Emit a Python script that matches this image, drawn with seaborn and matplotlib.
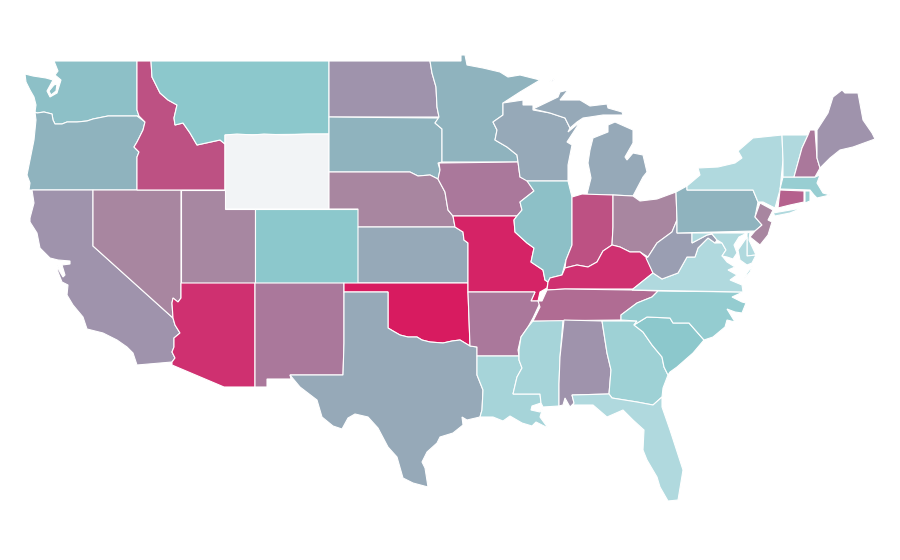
import numpy as np
import seaborn as sns
import matplotlib.pyplot as plt
from matplotlib.colors import Normalize

# escala de cores (do menor para o maior valor)
CORES_ESCALA = ["#b0d9de", "#8cc8cc", "#8fb3be", "#96a9b8", "#9f93ac",
                "#a886a0", "#aa789b", "#bd5283", "#cf3070", "#d81b60"]
COR_SEM_DADO = "#f2f4f6"

ESTADOS = ["WA", "OR", "CA", "NV", "ID", "MT", "WY", "UT", "CO", "AZ", "NM", "ND",
           "SD", "NE", "KS", "OK", "TX", "MN", "IA", "MO", "AR", "LA", "WI", "IL",
           "MS", "MI", "IN", "OH", "KY", "TN", "AL", "GA", "FL", "SC", "NC", "VA",
           "WV", "PA", "NY", "NJ", "DE", "MD", "CT", "RI", "MA", "VT", "NH", "ME"]
VALORES = [1.4, 2.0, 4.0, 5.0, 7.0, 1.0, np.nan, 4.9, 1.0, 8.0, 6.0, 4.0,
           2.0, 5.0, 3.0, 9.0, 3.0, 2.0, 6.0, 8.6, 6.0, 0.3, 3.0, 1.4,
           0.3, 3.0, 7.0, 5.0, 8.0, 6.3, 4.0, 0.5, 0.0, 1.0, 0.8, 0.0,
           3.5, 2.0, 0.0, 5.0, 0.0, 0.0, 6.6, 0.7, 0.7, 0.0, 6.0, 4.0]

# contornos dos estados (pixels da imagem)
CONTORNOS = {
    "WA": [[(54, 61), (137, 61), (137, 110), (139, 116), (108, 116), (93, 119), (87, 121), (77, 122),
            (67, 122), (62, 124), (55, 124), (53, 120), (52, 114), (44, 112), (37, 113), (35, 112),
            (36, 105), (34, 97), (30, 90), (26, 82), (25, 74), (33, 76), (46, 78), (53, 80), (47, 91),
            (50, 97), (57, 93), (61, 80), (55, 75), (58, 71)],
           [(49, 91), (54, 85), (57, 84), (56, 91), (51, 95)]],
    "OR": [[(35, 112), (37, 113), (44, 112), (52, 114), (53, 120), (55, 124), (62, 124), (67, 122),
            (77, 122), (87, 121), (93, 119), (108, 116), (137, 116), (145, 122), (143, 130), (137, 142),
            (134, 147), (139, 152), (137, 157), (137, 190), (29, 190), (30, 183), (27, 175), (30, 160),
            (34, 140), (36, 120)]],
    "CA": [[(32, 190), (93, 190), (93, 246), (173, 318), (175, 325), (180, 333), (174, 338), (174, 347),
            (172, 352), (175, 358), (172, 362), (137, 365), (133, 353), (127, 347), (117, 340),
            (103, 333), (87, 329), (83, 317), (73, 305), (67, 295), (68, 285), (62, 282), (58, 272),
            (57, 265), (60, 272), (63, 277), (65, 275), (62, 265), (70, 264), (70, 261), (58, 260),
            (50, 258), (40, 248), (37, 233), (30, 222), (30, 218), (34, 203)]],
    "NV": [[(93, 190), (181, 190), (181, 298), (178, 302), (173, 298), (172, 303), (173, 318), (93, 246)]],
    "ID": [[(137, 61), (151, 61), (152, 77), (157, 87), (160, 93), (168, 100), (177, 105), (174, 118),
            (175, 125), (183, 123), (190, 133), (197, 145), (220, 140), (225, 144), (225, 190), (137, 190),
            (137, 157), (139, 152), (134, 147), (137, 142), (143, 130), (145, 122), (139, 116), (137, 110)]],
    "MT": [[(151, 61), (329, 61), (329, 134), (225, 135), (225, 144), (220, 140), (197, 145), (190, 133),
            (183, 123), (175, 125), (174, 118), (177, 105), (168, 100), (160, 93), (157, 87), (152, 77)]],
    "WY": [[(225, 135), (237, 134), (253, 135), (264, 134), (285, 135), (307, 134), (329, 134), (329, 209),
            (265, 209), (225, 209)]],
    "UT": [[(181, 190), (225, 190), (225, 209), (255, 209), (255, 283), (181, 283)]],
    "CO": [[(255, 209), (358, 209), (358, 283), (255, 283)]],
    "AZ": [[(181, 283), (255, 283), (255, 387), (224, 387), (172, 365), (172, 362), (175, 358), (172, 352),
            (174, 347), (174, 338), (180, 333), (175, 325), (173, 318), (172, 303), (173, 298), (178, 302),
            (181, 298)]],
    "NM": [[(255, 283), (344, 283), (344, 343), (343, 375), (290, 375), (291, 379), (267, 379), (267, 387),
            (255, 387)]],
    "ND": [[(329, 61), (430, 61), (432, 73), (436, 87), (437, 107), (439, 117), (329, 117)]],
    "SD": [[(329, 117), (439, 118), (435, 123), (442, 129), (442, 162), (438, 163), (440, 170), (438, 179),
            (430, 175), (418, 176), (410, 172), (329, 172)]],
    "NE": [[(329, 172), (410, 172), (418, 176), (430, 175), (438, 179), (445, 192), (448, 210), (453, 216),
            (455, 227), (358, 227), (358, 209), (329, 209)]],
    "KS": [[(358, 227), (455, 227), (463, 232), (464, 240), (468, 243), (468, 283), (358, 283)]],
    "OK": [[(344, 283), (468, 283), (468, 292), (470, 346), (460, 340), (452, 341), (443, 343), (430, 342),
            (422, 340), (417, 337), (408, 337), (400, 335), (393, 331), (388, 328), (388, 292), (344, 292)]],
    "TX": [[(344, 292), (388, 292), (388, 328), (393, 331), (400, 335), (408, 337), (417, 337), (422, 340),
            (430, 342), (443, 343), (452, 341), (460, 340), (470, 346), (477, 347), (477, 375), (483, 390),
            (482, 410), (480, 417), (467, 420), (462, 417), (463, 425), (453, 433), (440, 437), (437, 443),
            (427, 452), (422, 462), (425, 468), (428, 487), (413, 483), (403, 478), (397, 457), (388, 447),
            (378, 428), (368, 417), (355, 414), (348, 418), (342, 429), (333, 426), (322, 417), (317, 400),
            (300, 387), (290, 375), (343, 375), (344, 343)]],
    "MN": [[(430, 61), (461, 61), (461, 55), (465, 55), (467, 65), (483, 68), (500, 72), (508, 77), (520, 75),
            (540, 80), (520, 92), (503, 103), (503, 115), (493, 122), (497, 130), (495, 140), (507, 147),
            (517, 155), (518, 162), (442, 162), (442, 129), (435, 123), (439, 117), (437, 107), (436, 87),
            (432, 73)]],
    "IA": [[(439, 163), (518, 162), (520, 177), (527, 180), (534, 191), (520, 202), (522, 210), (517, 216),
            (453, 216), (448, 210), (445, 192), (438, 179), (440, 170)]],
    "MO": [[(453, 216), (517, 216), (514, 220), (515, 232), (527, 243), (534, 248), (531, 262), (543, 270),
            (545, 280), (548, 282), (547, 288), (540, 292), (538, 301), (531, 301), (535, 292), (468, 292),
            (468, 243), (464, 240), (463, 232), (455, 227)]],
    "AR": [[(468, 292), (535, 292), (531, 301), (538, 301), (540, 303), (533, 318), (528, 327), (521, 337),
            (518, 350), (519, 356), (477, 356), (477, 347), (470, 346)]],
    "LA": [[(477, 356), (519, 356), (519, 360), (522, 368), (517, 377), (513, 394), (540, 394), (541, 403),
            (532, 406), (531, 410), (540, 412), (543, 407), (540, 417), (548, 428), (536, 422), (532, 426),
            (522, 423), (510, 416), (503, 421), (493, 417), (480, 417), (482, 410), (483, 390), (477, 375)]],
    "MS": [[(533, 321), (563, 320), (560, 357), (559, 384), (559, 406), (543, 407), (541, 403), (540, 394),
            (513, 394), (517, 377), (522, 368), (519, 360), (519, 350), (521, 337), (528, 327)]],
    "AL": [[(564, 320), (602, 321), (607, 353), (611, 370), (609, 394), (572, 395), (574, 403), (570, 407),
            (565, 398), (563, 405), (559, 406), (559, 384), (560, 357)]],
    "GA": [[(602, 321), (637, 321), (634, 325), (643, 332), (652, 345), (662, 357), (664, 367), (668, 375),
            (663, 388), (662, 397), (653, 405), (637, 402), (612, 398), (609, 394), (611, 370), (607, 353)]],
    "FL": [[(572, 395), (609, 394), (612, 398), (637, 402), (653, 405), (662, 397), (662, 407), (670, 430),
            (683, 470), (678, 500), (668, 501), (660, 487), (657, 477), (647, 460), (643, 450), (644, 430),
            (633, 420), (623, 410), (607, 417), (593, 405), (573, 405), (574, 403)]],
    "SC": [[(634, 325), (647, 317), (670, 318), (673, 323), (689, 323), (704, 340), (693, 353), (677, 367),
            (670, 372), (668, 375), (664, 367), (662, 357), (652, 345), (643, 332)]],
    "NC": [[(621, 320), (621, 315), (637, 303), (652, 297), (658, 291), (743, 292), (732, 297), (742, 302),
            (746, 303), (742, 313), (735, 312), (727, 309), (735, 322), (727, 320), (725, 327), (713, 337),
            (704, 340), (689, 323), (673, 323), (670, 318), (647, 317), (634, 325), (637, 321)]],
    "TN": [[(547, 290), (565, 289), (632, 290), (658, 291), (652, 297), (637, 303), (621, 315), (621, 320),
            (533, 321), (540, 307), (538, 301), (542, 301)]],
    "KY": [[(548, 282), (550, 278), (562, 275), (565, 268), (577, 265), (588, 267), (597, 262), (603, 251),
            (612, 245), (620, 247), (630, 252), (640, 252), (647, 258), (653, 273), (633, 289), (565, 289),
            (547, 290)]],
    "IL": [[(527, 181), (568, 181), (572, 197), (572, 245), (566, 260), (562, 275), (550, 278), (548, 282),
            (545, 280), (543, 270), (531, 262), (534, 248), (527, 243), (515, 232), (514, 220), (517, 216),
            (522, 210), (520, 202), (534, 191)]],
    "IN": [[(572, 197), (582, 194), (613, 195), (613, 227), (612, 245), (603, 251), (597, 262), (588, 267),
            (577, 265), (565, 268), (566, 260), (572, 245)]],
    "OH": [[(613, 195), (633, 196), (640, 201), (657, 199), (676, 192), (677, 220), (672, 232), (657, 243),
            (648, 257), (640, 252), (630, 252), (620, 247), (612, 245), (613, 227)]],
    "WV": [[(677, 220), (677, 233), (692, 233), (692, 243), (707, 235), (712, 234), (717, 240), (715, 243),
            (708, 238), (698, 248), (695, 257), (687, 257), (678, 273), (662, 279), (653, 273), (646, 258),
            (648, 257), (657, 243), (672, 232)]],
    "PA": [[(687, 186), (687, 190), (753, 190), (758, 202), (755, 217), (762, 225), (755, 231), (677, 233),
            (677, 220), (676, 192)]],
    "NY": [[(687, 186), (700, 175), (698, 168), (718, 167), (735, 163), (742, 158), (738, 151), (753, 138),
            (782, 135), (783, 160), (780, 190), (778, 197), (775, 208), (763, 202), (758, 202), (753, 190),
            (687, 190)],
           [(773, 213), (802, 208), (790, 213), (775, 216)]],
    "NJ": [[(760, 203), (773, 210), (768, 220), (772, 222), (768, 235), (760, 245), (750, 237), (755, 231),
            (762, 225), (755, 217)]],
    "DE": [[(747, 233), (750, 232), (749, 240), (756, 255), (747, 256)]],
    "MD": [[(692, 233), (747, 233), (739, 237), (734, 245), (737, 253), (733, 259), (727, 257), (722, 256),
            (726, 250), (722, 243), (717, 240), (712, 234), (707, 235), (692, 243)],
           [(747, 237), (747, 256), (756, 255), (752, 263), (747, 265), (740, 260), (738, 250)]],
    "VA": [[(633, 289), (653, 273), (662, 279), (678, 273), (687, 257), (695, 257), (698, 248), (708, 238),
            (715, 243), (722, 243), (726, 250), (722, 256), (723, 257), (727, 262), (735, 267), (728, 270),
            (737, 275), (730, 280), (742, 285), (743, 292), (632, 290)],
           [(753, 265), (747, 273), (744, 279), (750, 272)]],
    "CT": [[(780, 190), (804, 191), (804, 202), (790, 205), (778, 208)]],
    "RI": [[(805, 191), (810, 191), (810, 201), (805, 203)]],
    "MA": [[(783, 177), (815, 177), (820, 175), (817, 183), (823, 193), (830, 195), (817, 198), (814, 195),
            (810, 190), (780, 189)]],
    "VT": [[(782, 135), (808, 135), (802, 148), (794, 177), (783, 177), (783, 160)]],
    "NH": [[(810, 130), (815, 130), (817, 158), (820, 168), (815, 177), (794, 177), (802, 148), (808, 135)]],
    "ME": [[(817, 130), (828, 113), (833, 97), (842, 90), (845, 93), (858, 93), (863, 120), (872, 133),
            (875, 139), (853, 147), (840, 150), (830, 158), (820, 168), (817, 158)]],
    "WI": [[(503, 103), (523, 100), (523, 105), (533, 105), (533, 110), (550, 113), (565, 118), (570, 128),
            (568, 132), (580, 122), (567, 142), (572, 145), (568, 165), (568, 181), (527, 181), (520, 177),
            (518, 162), (517, 155), (507, 147), (495, 140), (497, 130), (493, 122), (503, 115)]],
    "MI": [[(590, 195), (613, 195), (633, 196), (643, 177), (647, 172), (643, 155), (633, 153), (627, 160),
            (625, 157), (633, 143), (633, 130), (615, 122), (608, 125), (608, 132), (593, 138),
            (590, 150), (588, 163), (591, 178), (587, 194)],
           [(533, 109), (558, 97), (560, 92), (568, 90), (560, 100), (580, 100), (590, 106), (607, 104),
            (608, 108), (622, 112), (623, 115), (603, 115), (590, 117), (583, 118), (577, 122), (570, 128),
            (565, 118), (550, 113)],
           [(549, 82), (555, 78), (553, 81)]],
}

sns.set_theme(style="white")

mapa_cores = sns.blend_palette(CORES_ESCALA, as_cmap=True)
mapa_cores.set_bad(COR_SEM_DADO)
norma = Normalize(vmin=0, vmax=9)

fig = plt.figure(figsize=(9, 5.6), dpi=100)
ax = fig.add_axes([0, 0, 1, 1])
ax.set_xlim(0, 900)
ax.set_ylim(560, 0)
ax.axis("off")

for estado, valor in zip(ESTADOS, VALORES):
    cor = mapa_cores(norma(np.ma.masked_invalid(valor)))
    for parte in CONTORNOS[estado]:
        xs, ys = zip(*parte)
        ax.fill(xs, ys, facecolor=cor, edgecolor="white", linewidth=0.8)

fig.savefig("out.png", dpi=100)
